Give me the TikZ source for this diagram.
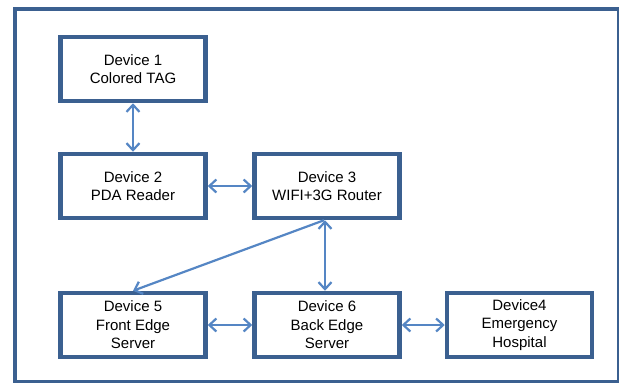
\documentclass[tikz,border=0pt]{standalone}
\usepackage{fontspec}
\setmainfont{Liberation Sans}
\usetikzlibrary{arrows.meta}
\definecolor{boxblue}{HTML}{3B6090}
\definecolor{linkblue}{HTML}{5586C4}
\begin{document}
\begin{tikzpicture}[x=1pt,y=-1pt,
  device/.style={draw=boxblue, line width=4.5pt, fill=white,
    minimum width=145pt, minimum height=64pt, inner sep=0pt,
    align=center, font=\fontsize{15}{18.5}\selectfont},
  link/.style={draw=linkblue, line width=2.2pt,
    {Straight Barb[length=7pt,width=13pt,line width=2.2pt]}-{Straight Barb[length=7pt,width=13pt,line width=2.2pt]}},
  onelink/.style={draw=linkblue, line width=2.2pt,
    -{Straight Barb[length=7pt,width=13pt,line width=2.2pt]}}]
  \useasboundingbox (0,0) rectangle (619,383);
  % outer frame
  \draw[boxblue, line width=4pt] (14.5,8.5) rectangle (618.5,382);

  % devices
  \node[device] (d1) at (133,69)  {Device 1\\Colored TAG};
  \node[device] (d2) at (133,186) {Device 2\\PDA Reader};
  \node[device] (d3) at (327,186) {Device 3\\WIFI+3G Router};
  \node[device] (d5) at (133,325) {Device 5\\Front Edge\\Server};
  \node[device] (d6) at (327,325) {Device 6\\Back Edge\\Server};
  \node[device] (d4) at (519.5,325) {Device4\\Emergency\\Hospital};

  % links
  \draw[link] (d1) -- (d2);
  \draw[link] (d2) -- (d3);
  \draw[link] ([xshift=-2pt]d3.south) -- ([xshift=-2pt]d6.north);
  \draw[onelink] ([xshift=-3pt]d3.south) -- (d5.north);
  \draw[link] (d5) -- (d6);
  \draw[link] (d6) -- (d4);
\end{tikzpicture}
\end{document}
